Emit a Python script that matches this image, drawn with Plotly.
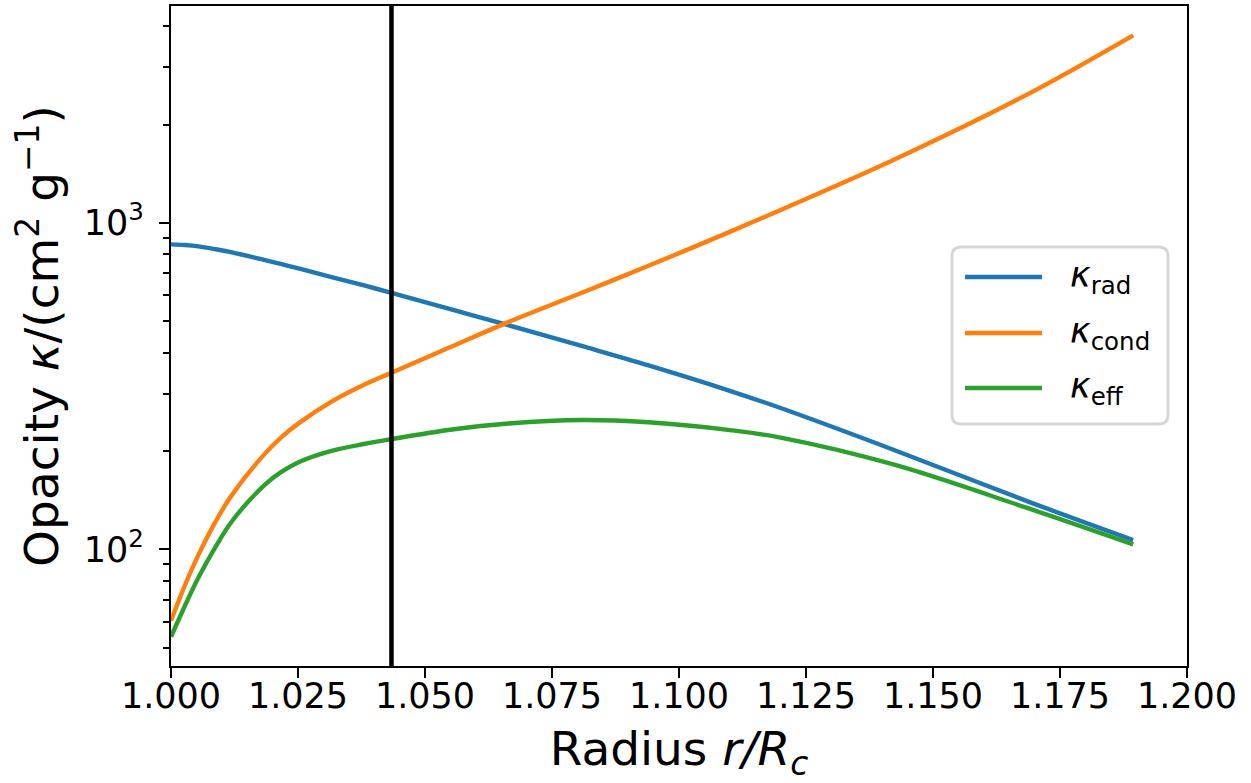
import plotly.graph_objects as go

# Normalised radius r/R_c
radius = [1.0, 1.0027, 1.0054, 1.0088, 1.012, 1.0185, 1.0218, 1.0251, 1.0316, 1.0382, 1.0434,
          1.055, 1.0664, 1.081, 1.094, 1.110, 1.120, 1.1422, 1.1685, 1.1894]

# Opacities in cm^2 g^-1
kappa_rad = [859, 855, 847, 830, 812, 769, 747, 725, 682, 642, 610.5,
             544, 486, 419, 366, 306, 271, 202, 140.6, 106.8]
kappa_cond = [60.5, 77.4, 96.2, 121.8, 146.9, 196.5, 221.2, 243.2, 283.5, 320.4, 347.5,
              416.6, 496.6, 611.7, 738.7, 938.5, 1095, 1558, 2470, 3752]
kappa_eff = [54.0, 67, 82, 102, 122, 158, 173, 185, 200.4, 210.6, 217.6,
             232.5, 243, 249, 245, 232, 220, 182, 134, 103.6]

# Radius of the transition marker
r_marker = [1.0434]

series_names = ["κ_rad", "κ_cond", "κ_eff"]
series_labels = ["<i>κ</i><sub>rad</sub>", "<i>κ</i><sub>cond</sub>", "<i>κ</i><sub>eff</sub>"]
series_colors = ["#1f77b4", "#ff7f0e", "#2ca02c"]
series_values = [kappa_rad, kappa_cond, kappa_eff]

x_ticks = [1.0 + 0.025 * i for i in range(9)]
y_major = [100, 1000]
y_major_text = ["10<sup>2</sup>", "10<sup>3</sup>"]
y_minor = [50, 60, 70, 80, 90, 200, 300, 400, 500, 600, 700, 800, 900, 2000, 3000, 4000]

FONT = "DejaVu Sans"
W, H = 1251, 783
ML, MR, MT, MB = 171, 64, 6, 117

fig = go.Figure()
for name, color, vals in zip(series_names, series_colors, series_values):
    fig.add_trace(go.Scatter(
        x=radius, y=vals, mode="lines", name=name,
        line=dict(color=color, width=4.4, shape="spline", smoothing=1.0),
        showlegend=False,
    ))

# vertical marker line
fig.add_shape(type="line", xref="x", yref="paper",
              x0=r_marker[0], x1=r_marker[0], y0=0, y1=1,
              line=dict(color="black", width=4.5), layer="above")

# legend frame and entries (pixel layout converted to paper units)
pw, ph = W - ML - MR, H - MT - MB


def px2paper(px, py):
    return (px - ML) / pw, (H - MB - py) / ph


bx0, by1 = px2paper(952, 247)
bx1, by0 = px2paper(1168, 424)
rx, ry = 9 / pw, 9 / ph
frame = (f"M {bx0+rx},{by1} L {bx1-rx},{by1} Q {bx1},{by1} {bx1},{by1-ry} "
         f"L {bx1},{by0+ry} Q {bx1},{by0} {bx1-rx},{by0} "
         f"L {bx0+rx},{by0} Q {bx0},{by0} {bx0},{by0+ry} "
         f"L {bx0},{by1-ry} Q {bx0},{by1} {bx0+rx},{by1} Z")
fig.add_shape(type="path", xref="paper", yref="paper", path=frame,
              fillcolor="rgba(255,255,255,0.8)",
              line=dict(color="rgba(204,204,204,0.8)", width=2.9), layer="above")

entry_py = [277, 333, 388]
for label, color, py in zip(series_labels, series_colors, entry_py):
    lx0, ly = px2paper(965, py)
    lx1, _ = px2paper(1042, py)
    fig.add_shape(type="line", xref="paper", yref="paper",
                  x0=lx0, x1=lx1, y0=ly, y1=ly,
                  line=dict(color=color, width=4.4), layer="above")
    tx, _ = px2paper(1068, py)
    fig.add_annotation(xref="paper", yref="paper", x=tx, y=ly,
                       text=label, showarrow=False, xanchor="left", yanchor="middle",
                       font=dict(family=FONT, size=35, color="black"))

fig.update_layout(
    width=W, height=H,
    margin=dict(l=ML, r=MR, t=MT, b=MB, autoexpand=False),
    paper_bgcolor="white", plot_bgcolor="white",
    font=dict(family=FONT, size=35, color="black"),
    showlegend=False,
)

fig.update_xaxes(
    range=[1.0, 1.2], tickmode="array", tickvals=x_ticks,
    ticktext=[f"{v:.3f}" for v in x_ticks],
    ticks="outside", ticklen=10, tickwidth=2.2, tickcolor="black",
    showline=True, mirror=True, linecolor="black", linewidth=2.2,
    showgrid=False, zeroline=False, automargin=False,
    ticklabelstandoff=-12,
    tickfont=dict(family=FONT, size=35),
    title=dict(text="Radius <i>r/R</i><sub><i>c</i></sub>",
               font=dict(family=FONT, size=47), standoff=34),
)

fig.update_yaxes(
    type="log", range=[1.643, 3.664],
    tickmode="array", tickvals=y_major, ticktext=y_major_text,
    ticks="outside", ticklen=10, tickwidth=2.2, tickcolor="black",
    minor=dict(tickmode="array", tickvals=y_minor, ticks="outside",
               ticklen=5.5, tickwidth=1.7, tickcolor="black", showgrid=False),
    showline=True, mirror=True, linecolor="black", linewidth=2.2,
    showgrid=False, zeroline=False, automargin=False,
    ticklabelstandoff=8,
    tickfont=dict(family=FONT, size=35),
    title=dict(text="Opacity <i>κ</i>/(cm<sup>2</sup> g<sup>−1</sup>)",
               font=dict(family=FONT, size=47), standoff=10),
)

fig.write_html("out.html")
